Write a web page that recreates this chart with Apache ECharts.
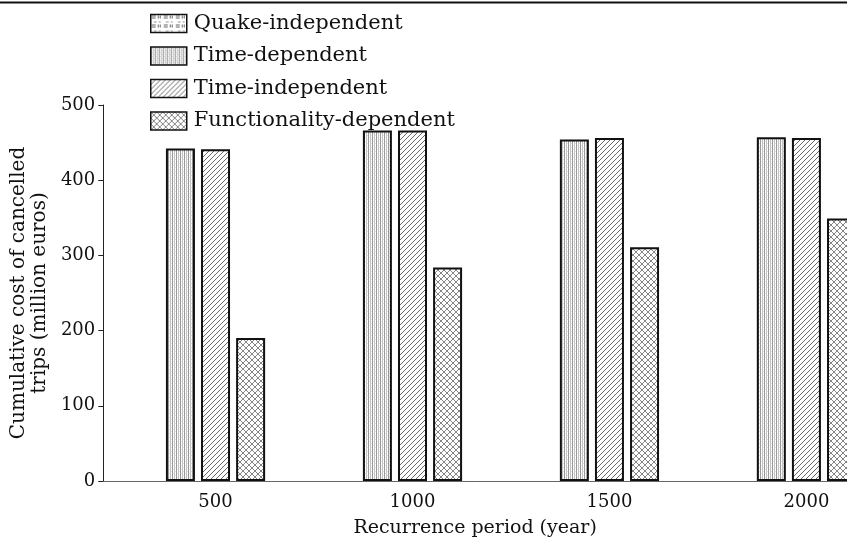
<!DOCTYPE html>
<html>
<head>
<meta charset="utf-8">
<script src="https://cdn.jsdelivr.net/npm/echarts@6/dist/echarts.min.js"></script>
<style>
html,body{margin:0;padding:0;background:#fff;}
#chart{width:847px;height:543px;}
</style>
</head>
<body>
<div id="chart"></div>
<script>
// ---- data ----
const periods = [500, 1000, 1500, 2000];
const quakeIndependent = [null, null, null, null];
const timeDependent = [442, 466, 454, 457];
const timeIndependent = [441, 466, 456, 456];
const functionalityDependent = [190, 284, 311, 349];
const seriesNames = ['Quake-independent', 'Time-dependent', 'Time-independent', 'Functionality-dependent'];
const yTicks = [0, 100, 200, 300, 400, 500];

// ---- patterns ----
function makePattern(w, h, draw) {
  const c = document.createElement('canvas');
  c.width = w; c.height = h;
  const ctx = c.getContext('2d');
  ctx.fillStyle = '#fff';
  ctx.fillRect(0, 0, w, h);
  draw(ctx, w, h);
  return { image: c, repeat: 'repeat' };
}
const patVertical = makePattern(4, 4, (ctx) => {
  ctx.fillStyle = '#9a9a9a'; ctx.fillRect(0, 0, 1, 4);
  ctx.fillStyle = '#c4c4c4'; ctx.fillRect(2, 0, 1, 4);
  ctx.fillStyle = '#e4e4e4'; ctx.fillRect(1, 1, 1, 1); ctx.fillRect(3, 3, 1, 1);
});
const patDiagonal = makePattern(5, 5, (ctx, w, h) => {
  ctx.strokeStyle = '#6a6a6a'; ctx.lineWidth = 1;
  ctx.beginPath();
  ctx.moveTo(-1, h + 1); ctx.lineTo(w + 1, -1);
  ctx.moveTo(-1 - w, h + 1); ctx.lineTo(1, -1);
  ctx.moveTo(w - 1, h + 1); ctx.lineTo(2 * w + 1, -1);
  ctx.stroke();
});
const patCross = makePattern(6, 6, (ctx, w, h) => {
  ctx.strokeStyle = '#858585'; ctx.lineWidth = 1;
  ctx.beginPath();
  ctx.moveTo(0, h); ctx.lineTo(w, 0);
  ctx.moveTo(0, 0); ctx.lineTo(w, h);
  ctx.stroke();
});
const patQuake = makePattern(12, 9, (ctx) => {
  ctx.fillStyle = '#666';
  ctx.fillRect(1, 1, 4, 1); ctx.fillRect(1, 3, 4, 1);
  ctx.fillRect(7, 1, 1, 3); ctx.fillRect(9, 1, 1, 3);
  ctx.fillStyle = '#999';
  ctx.fillRect(3, 7, 3, 1); ctx.fillRect(8, 7, 2, 1);
});

const FONT = 'DejaVu Serif';
function pairs(arr) { return periods.map((p, i) => [p, arr[i]]); }
const barStyle = (pat) => ({ color: pat, borderColor: '#111', borderWidth: 2 });

const chart = echarts.init(document.getElementById('chart'), null, { renderer: 'canvas' });
chart.setOption({
  animation: false,
  backgroundColor: '#fff',
  textStyle: { fontFamily: FONT },
  grid: { left: 102, right: -3, top: 105, bottom: 62, containLabel: false },
  legend: {
    data: seriesNames.map(n => ({ name: n, icon: 'rect' })),
    orient: 'vertical',
    left: 150, top: 13,
    padding: 0,
    itemWidth: 36, itemHeight: 18, itemGap: 11.5,
    textStyle: { fontFamily: FONT, fontSize: 21, color: '#111', padding: [0, 0, 0, 2] },
    itemStyle: { borderColor: '#111', borderWidth: 1.5 },
    selectedMode: false
  },
  xAxis: {
    type: 'value',
    min: 215, max: 2103,
    name: 'Recurrence period (year)',
    nameLocation: 'middle', nameGap: 38,
    nameTextStyle: { fontFamily: FONT, fontSize: 19, color: '#111' },
    axisLine: { show: true, lineStyle: { color: '#666', width: 1 } },
    axisTick: { show: false },
    splitLine: { show: false },
    axisLabel: { customValues: periods, formatter: v => String(v), fontFamily: FONT, fontSize: 18, color: '#111', margin: 12 }
  },
  yAxis: {
    type: 'value',
    min: 0, max: 500, interval: 100,
    name: 'Cumulative cost of cancelled\ntrips (million euros)',
    nameLocation: 'middle', nameGap: 50, nameRotate: 90,
    nameTextStyle: { fontFamily: FONT, fontSize: 20, color: '#111', lineHeight: 21 },
    axisLine: { show: true, lineStyle: { color: '#222', width: 1 } },
    axisTick: { show: true, inside: false, length: 5, lineStyle: { color: '#222' } },
    splitLine: { show: false },
    axisLabel: { customValues: yTicks, formatter: v => String(v), fontFamily: FONT, fontSize: 18, color: '#111', margin: 8 }
  },
  series: [
    { name: seriesNames[0], type: 'bar', stack: 'td', data: pairs(quakeIndependent), barWidth: 29, barGap: '21%', itemStyle: barStyle(patQuake) },
    { name: seriesNames[1], type: 'bar', stack: 'td', data: pairs(timeDependent), barWidth: 29, barGap: '21%', itemStyle: barStyle(patVertical) },
    { name: seriesNames[2], type: 'bar', data: pairs(timeIndependent), barWidth: 29, barGap: '21%', itemStyle: barStyle(patDiagonal) },
    { name: seriesNames[3], type: 'bar', data: pairs(functionalityDependent), barWidth: 29, barGap: '21%', itemStyle: barStyle(patCross) }
  ],
  graphic: [
    { type: 'line', shape: { x1: 0, y1: 2.5, x2: 847, y2: 2.5 }, style: { stroke: '#111', lineWidth: 2 }, silent: true }
  ]
});
</script>
</body>
</html>
